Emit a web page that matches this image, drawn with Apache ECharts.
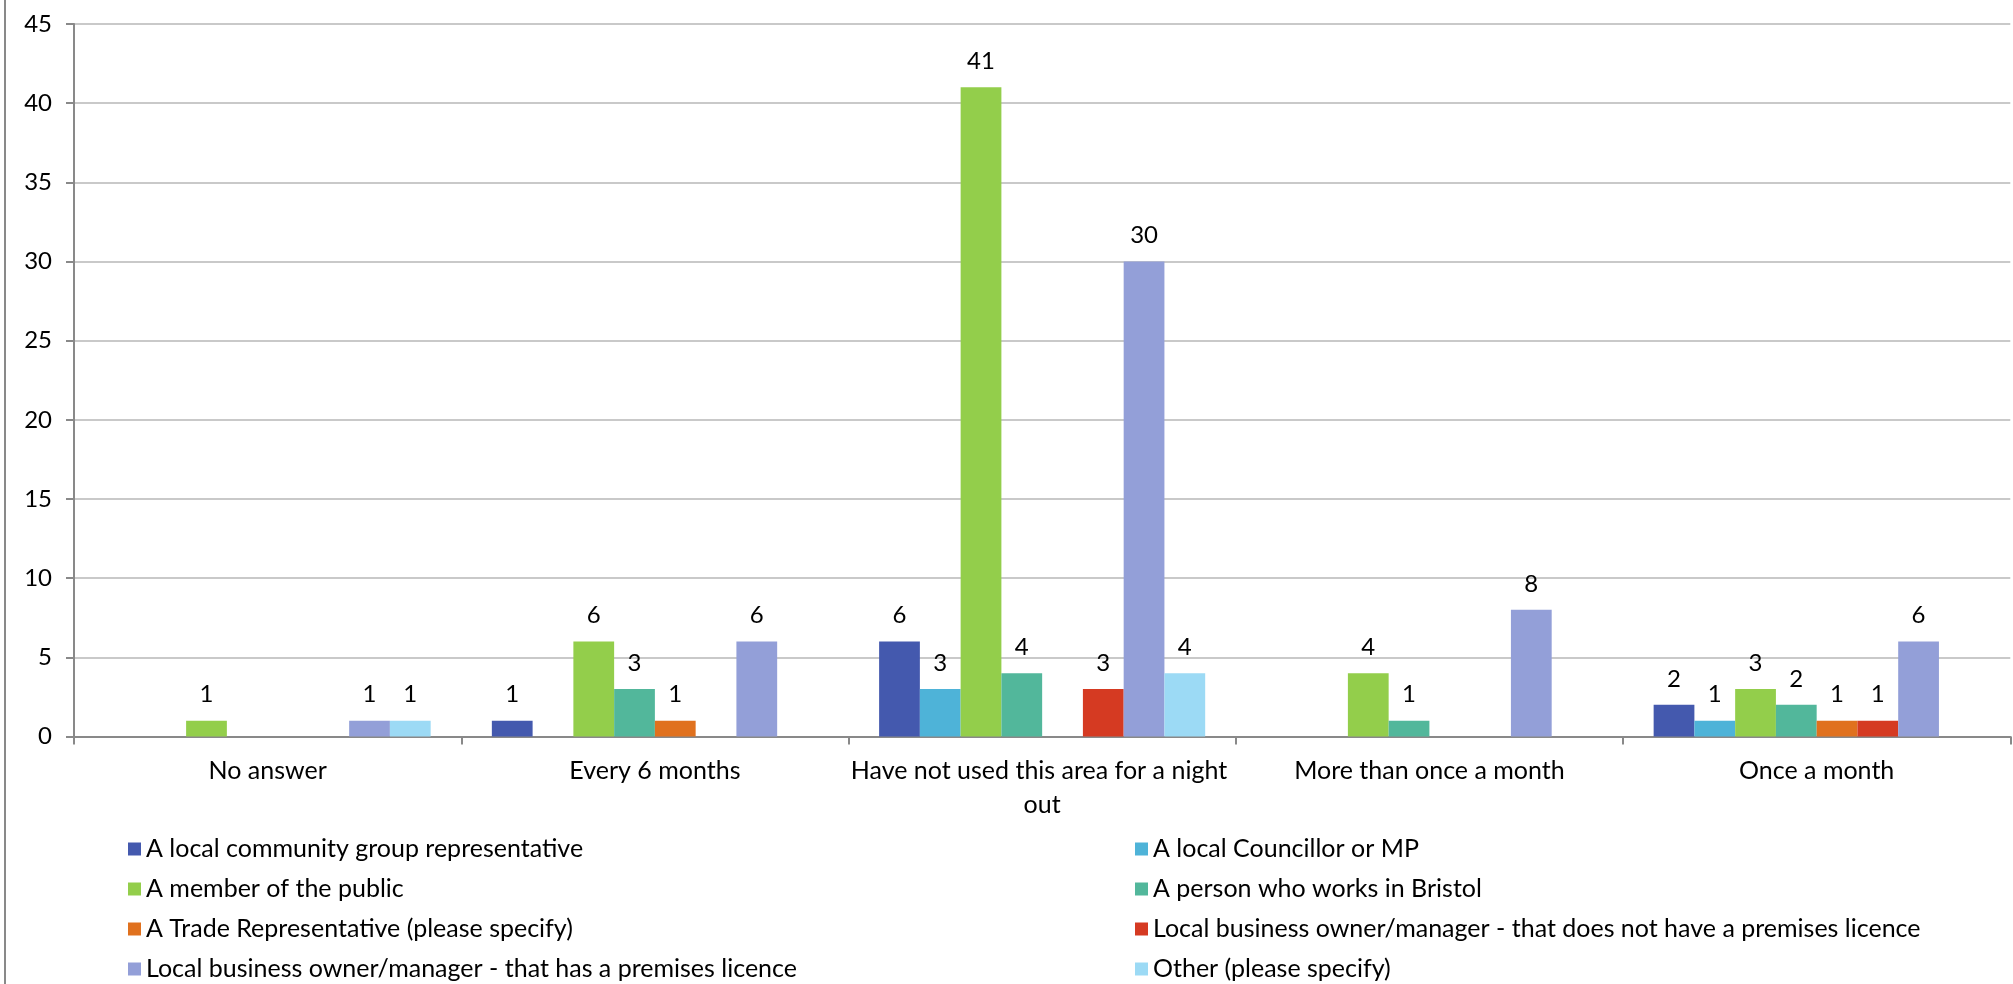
<!DOCTYPE html>
<html>
<head>
<meta charset="utf-8">
<script src="https://cdn.jsdelivr.net/npm/echarts@6/dist/echarts.min.js"></script>
<style>
html,body{margin:0;padding:0;background:#fff;}
#chart{width:2013px;height:984px;}
</style>
</head>
<body>
<div id="chart"></div>
<script>
const categories = ['No answer', 'Every 6 months', 'Have not used this area for a night out', 'More than once a month', 'Once a month'];
const seriesNames = [
  'A local community group representative',
  'A local Councillor or MP',
  'A member of the public',
  'A person who works in Bristol',
  'A Trade Representative (please specify)',
  'Local business owner/manager - that does not have a premises licence',
  'Local business owner/manager - that has a premises licence',
  'Other (please specify)'
];
const communityGroup = [0, 1, 6, 0, 2];
const councillor = [0, 0, 3, 0, 1];
const publicMember = [1, 6, 41, 4, 3];
const worksInBristol = [0, 3, 4, 1, 2];
const tradeRep = [0, 1, 0, 0, 1];
const businessNoLicence = [0, 0, 3, 0, 1];
const businessLicence = [1, 6, 30, 8, 6];
const other = [1, 0, 4, 0, 0];
const yTicks = [0, 5, 10, 15, 20, 25, 30, 35, 40, 45];

const seriesValues = [communityGroup, councillor, publicMember, worksInBristol, tradeRep, businessNoLicence, businessLicence, other];
const colors = ['#4459AE', '#4EB3D8', '#93CE4B', '#52B79B', '#E0711E', '#D53A22', '#939FD8', '#9CDAF5'];
const FONT = 'Lato';
const FS = 25;

const chart = echarts.init(document.getElementById('chart'), null, {renderer: 'canvas'});

const series = seriesNames.map((name, i) => ({
  name: name,
  type: 'bar',
  data: seriesValues[i],
  barGap: '0%',
  barCategoryGap: '15.8%',
  itemStyle: {color: colors[i]},
  label: {
    show: true,
    position: 'top',
    distance: 14,
    color: '#000',
    fontFamily: FONT,
    fontSize: 24,
    formatter: p => (p.value === 0 ? '' : String(p.value))
  }
}));

const legendText = {color: '#000', fontFamily: FONT, fontSize: FS, lineHeight: 26};

chart.setOption({
  animation: false,
  backgroundColor: '#fff',
  color: colors,
  grid: {left: 74, right: -4, top: 24, bottom: 247.5, containLabel: false},
  legend: [
    {
      orient: 'vertical', left: 123, top: 831, height: 152, itemWidth: 13, itemHeight: 13, itemGap: 14, icon: 'rect',
      textStyle: legendText,
      data: [seriesNames[0], seriesNames[2], seriesNames[4], seriesNames[6]]
    },
    {
      orient: 'vertical', left: 1130, top: 831, height: 152, itemWidth: 13, itemHeight: 13, itemGap: 14, icon: 'rect',
      textStyle: legendText,
      data: [seriesNames[1], seriesNames[3], seriesNames[5], seriesNames[7]]
    }
  ],
  xAxis: {
    type: 'category',
    data: categories,
    axisLine: {lineStyle: {color: '#898989', width: 2}},
    axisTick: {show: true, length: 8, lineStyle: {color: '#898989', width: 2}},
    axisLabel: {
      interval: 0, color: '#000', fontFamily: FONT, fontSize: FS, lineHeight: 34,
      margin: 17, width: 388, overflow: 'break'
    }
  },
  yAxis: {
    type: 'value',
    min: yTicks[0], max: yTicks[yTicks.length - 1], interval: 5,
    axisLine: {show: true, lineStyle: {color: '#898989', width: 2}},
    axisTick: {show: true, length: 8, lineStyle: {color: '#898989', width: 2}},
    splitLine: {lineStyle: {color: '#C9C9C9', width: 2}},
    axisLabel: {color: '#000', fontFamily: FONT, fontSize: 24, margin: 22}
  },
  graphic: [{
    type: 'line',
    shape: {x1: 5, y1: 0, x2: 5, y2: 984},
    style: {stroke: '#898989', lineWidth: 2}
  }],
  series: series
});
</script>
</body>
</html>
